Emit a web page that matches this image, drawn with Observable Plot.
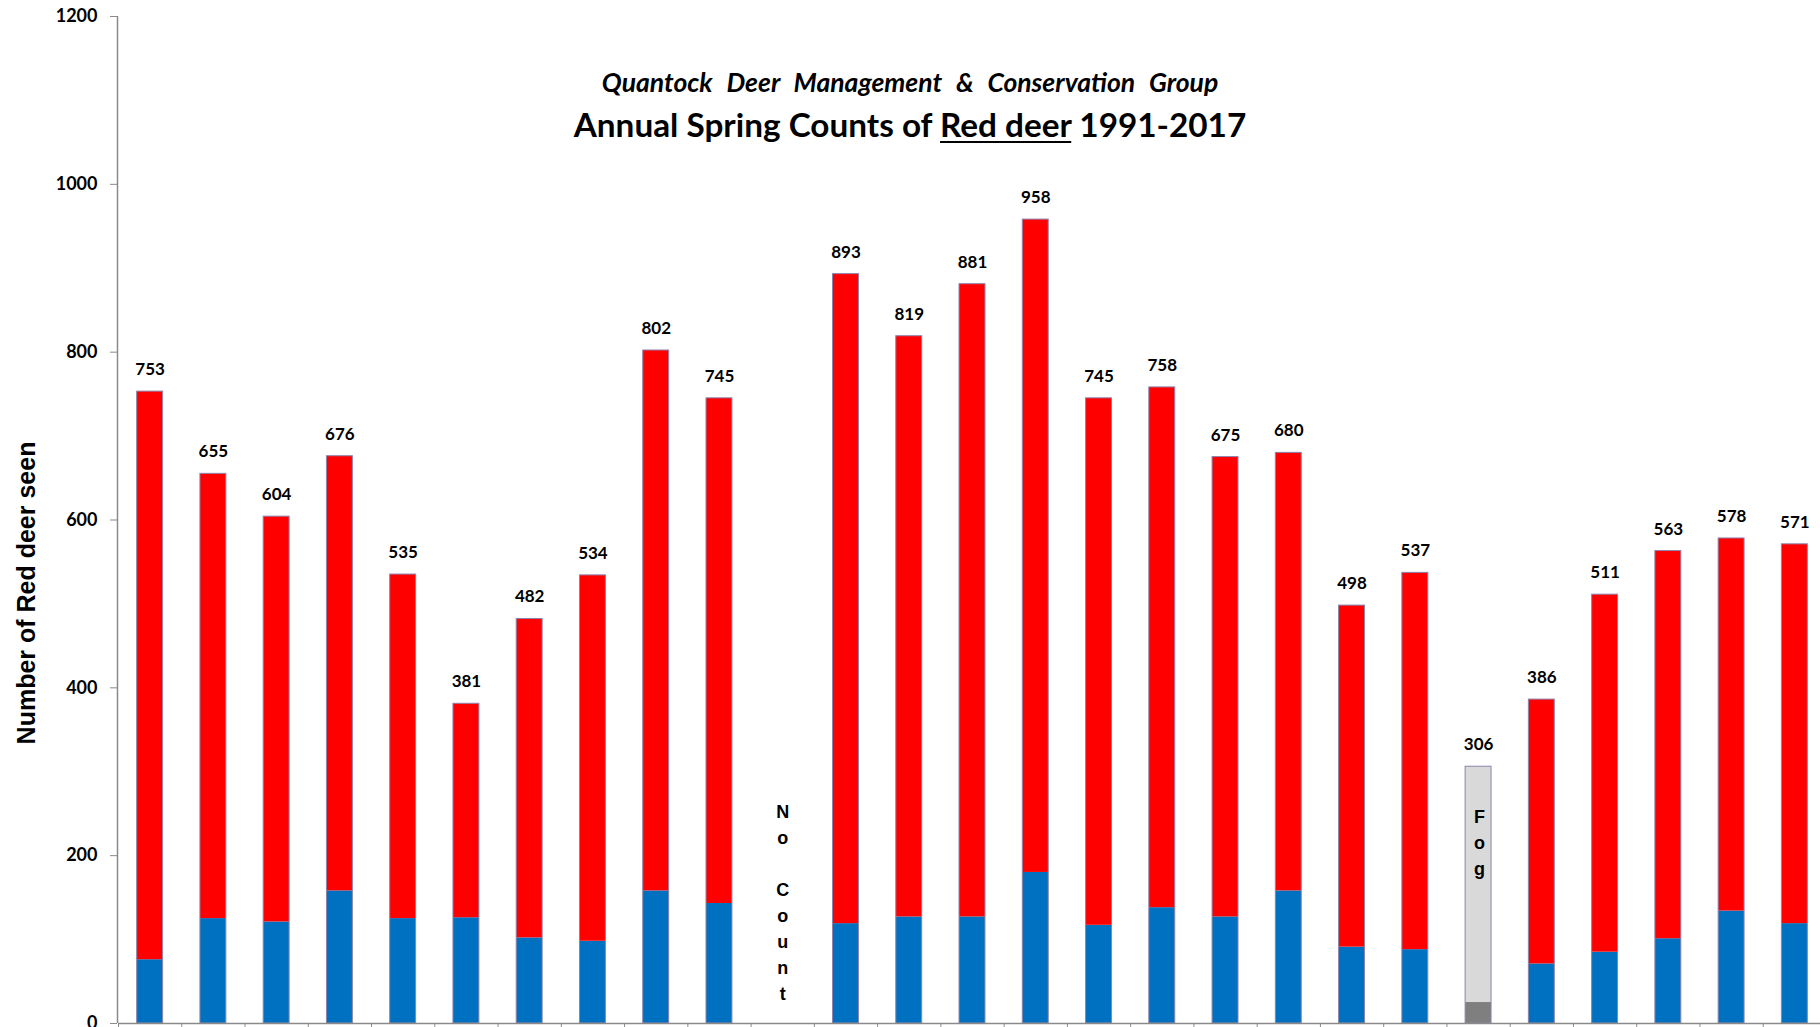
<!DOCTYPE html>
<html>
<head>
<meta charset="utf-8">
<script src="https://cdn.jsdelivr.net/npm/d3@7"></script>
<script src="https://cdn.jsdelivr.net/npm/@observablehq/plot@0.6"></script>
<style>
  html, body { margin: 0; padding: 0; background: #fff; }
  #wrap { position: relative; width: 1820px; height: 1027px; overflow: hidden; }
  #title { position: absolute; left: 0; width: 1820px; top: 0; pointer-events: none; }
  #title .sub { position: absolute; left: 910px; top: 82px; transform: translate(-50%, -50%); white-space: nowrap;
    font-family: Lato, sans-serif; font-style: italic; font-weight: bold; font-size: 26.5px; word-spacing: 8px; color: #000; }
  #title .main { position: absolute; left: 910px; top: 124px; transform: translate(-50%, -50%); white-space: nowrap;
    font-family: Lato, sans-serif; font-weight: bold; font-size: 33.3px; color: #000; }
  #title .main u { text-decoration-thickness: 2px; text-underline-offset: 4px; }
</style>
</head>
<body>
<div id="wrap">
  <div id="chart"></div>
  <div id="title">
    <div class="sub">Quantock Deer Management &amp; Conservation Group</div>
    <div class="main">Annual Spring Counts of <u>Red deer</u> 1991-2017</div>
  </div>
</div>
<script>
// ---- data ----
const years = [1991, 1992, 1993, 1994, 1995, 1996, 1997, 1998, 1999, 2000,
               2001, 2002, 2003, 2004, 2005, 2006, 2007, 2008, 2009, 2010,
               2011, 2012, 2013, 2014, 2015, 2016, 2017];
const totals = [753, 655, 604, 676, 535, 381, 482, 534, 802, 745,
                null, 893, 819, 881, 958, 745, 758, 675, 680, 498,
                537, 306, 386, 511, 563, 578, 571];
const lowerPart = [76, 125, 121, 158, 125, 126, 102, 98, 158, 143,
                   null, 119, 127, 127, 180, 117, 138, 127, 158, 91,
                   88, 25, 71, 85, 101, 134, 119];
const kinds = ["count","count","count","count","count","count","count","count","count","count",
               "none","count","count","count","count","count","count","count","count","count",
               "count","fog","count","count","count","count","count"];
const yTicks = [0, 200, 400, 600, 800, 1000, 1200];
const yLabel = "Number of Red deer seen";
const noCountText = "No Count";
const fogText = "Fog";

const data = years.map((year, i) => ({year, total: totals[i], lower: lowerPart[i], kind: kinds[i]}));
const counted = data.filter(d => d.kind === "count");
const fog = data.filter(d => d.kind === "fog");
const noCount = data.filter(d => d.kind === "none");
const withValue = data.filter(d => d.total != null);

const W = 1820, H = 1027, mL = 118, mR = -6, mT = 16, mB = 4;
const step = (W - mL - mR) / years.length;
const vertical = s => s.split(" ").map(w => w.split("").join("\n")).join("\n\n");

const chart = Plot.plot({
  width: W, height: H,
  marginLeft: mL, marginRight: mR, marginTop: mT, marginBottom: mB,
  style: {fontFamily: "Lato, sans-serif", background: "#fff", overflow: "visible"},
  x: {type: "band", domain: years, paddingInner: 0.59, paddingOuter: 0.295, round: false, axis: null},
  y: {domain: [0, 1200], axis: null},
  marks: [
    Plot.barY(counted, {x: "year", y1: 0, y2: "lower", fill: "#0070C0"}),
    Plot.barY(counted, {x: "year", y1: "lower", y2: "total", fill: "#FF0000"}),
    Plot.barY(fog, {x: "year", y1: 0, y2: "lower", fill: "#7f7f7f"}),
    Plot.barY(fog, {x: "year", y1: "lower", y2: "total", fill: "#d9d9d9"}),
    Plot.barY(withValue, {x: "year", y1: 0, y2: "total", fill: "none", stroke: "#8c84ad", strokeWidth: 1}),
    Plot.text(withValue, {x: "year", y: "total", text: d => String(d.total), dy: -22,
      fontSize: 17, fontWeight: "bold", fill: "#000", lineAnchor: "middle"}),
    Plot.text(noCount, {x: "year", text: () => vertical(noCountText), frameAnchor: "bottom",
      textAnchor: "middle", lineAnchor: "bottom", dy: -24, lineHeight: 1.44, fontSize: 18, fontWeight: "bold",
      fontFamily: "Liberation Sans, Arial, sans-serif", fill: "#000"}),
    Plot.text(fog, {x: "year", y: "total", text: () => vertical(fogText), lineAnchor: "top",
      dy: 38, dx: 1, lineHeight: 1.44, fontSize: 18, fontWeight: "bold",
      fontFamily: "Liberation Sans, Arial, sans-serif", fill: "#000"}),
    Plot.ruleX([years[0]], {x: d => d, dx: -step / 2 - 1, stroke: "#8a8a8a", strokeWidth: 1.5}),
    Plot.ruleY([0], {stroke: "#8a8a8a", strokeWidth: 1.5}),
    Plot.axisY({ticks: yTicks, tickSize: 7, tickPadding: 13, tickFormat: d => String(d), label: null,
      fontSize: 18, fontWeight: "bold", stroke: "#8a8a8a", fill: "#000", dx: -1}),
    Plot.axisX(years, {tickSize: 8, tickFormat: () => "", label: null, dx: -step / 2, stroke: "#8a8a8a"}),
    Plot.text([yLabel], {frameAnchor: "left", textAnchor: "middle", dx: -92, dy: 73, rotate: -90, text: d => d,
      fontSize: 25, fontWeight: "bold", fontFamily: "Liberation Sans, Arial, sans-serif", fill: "#000"})
  ]
});
document.getElementById("chart").appendChild(chart);
</script>
</body>
</html>
